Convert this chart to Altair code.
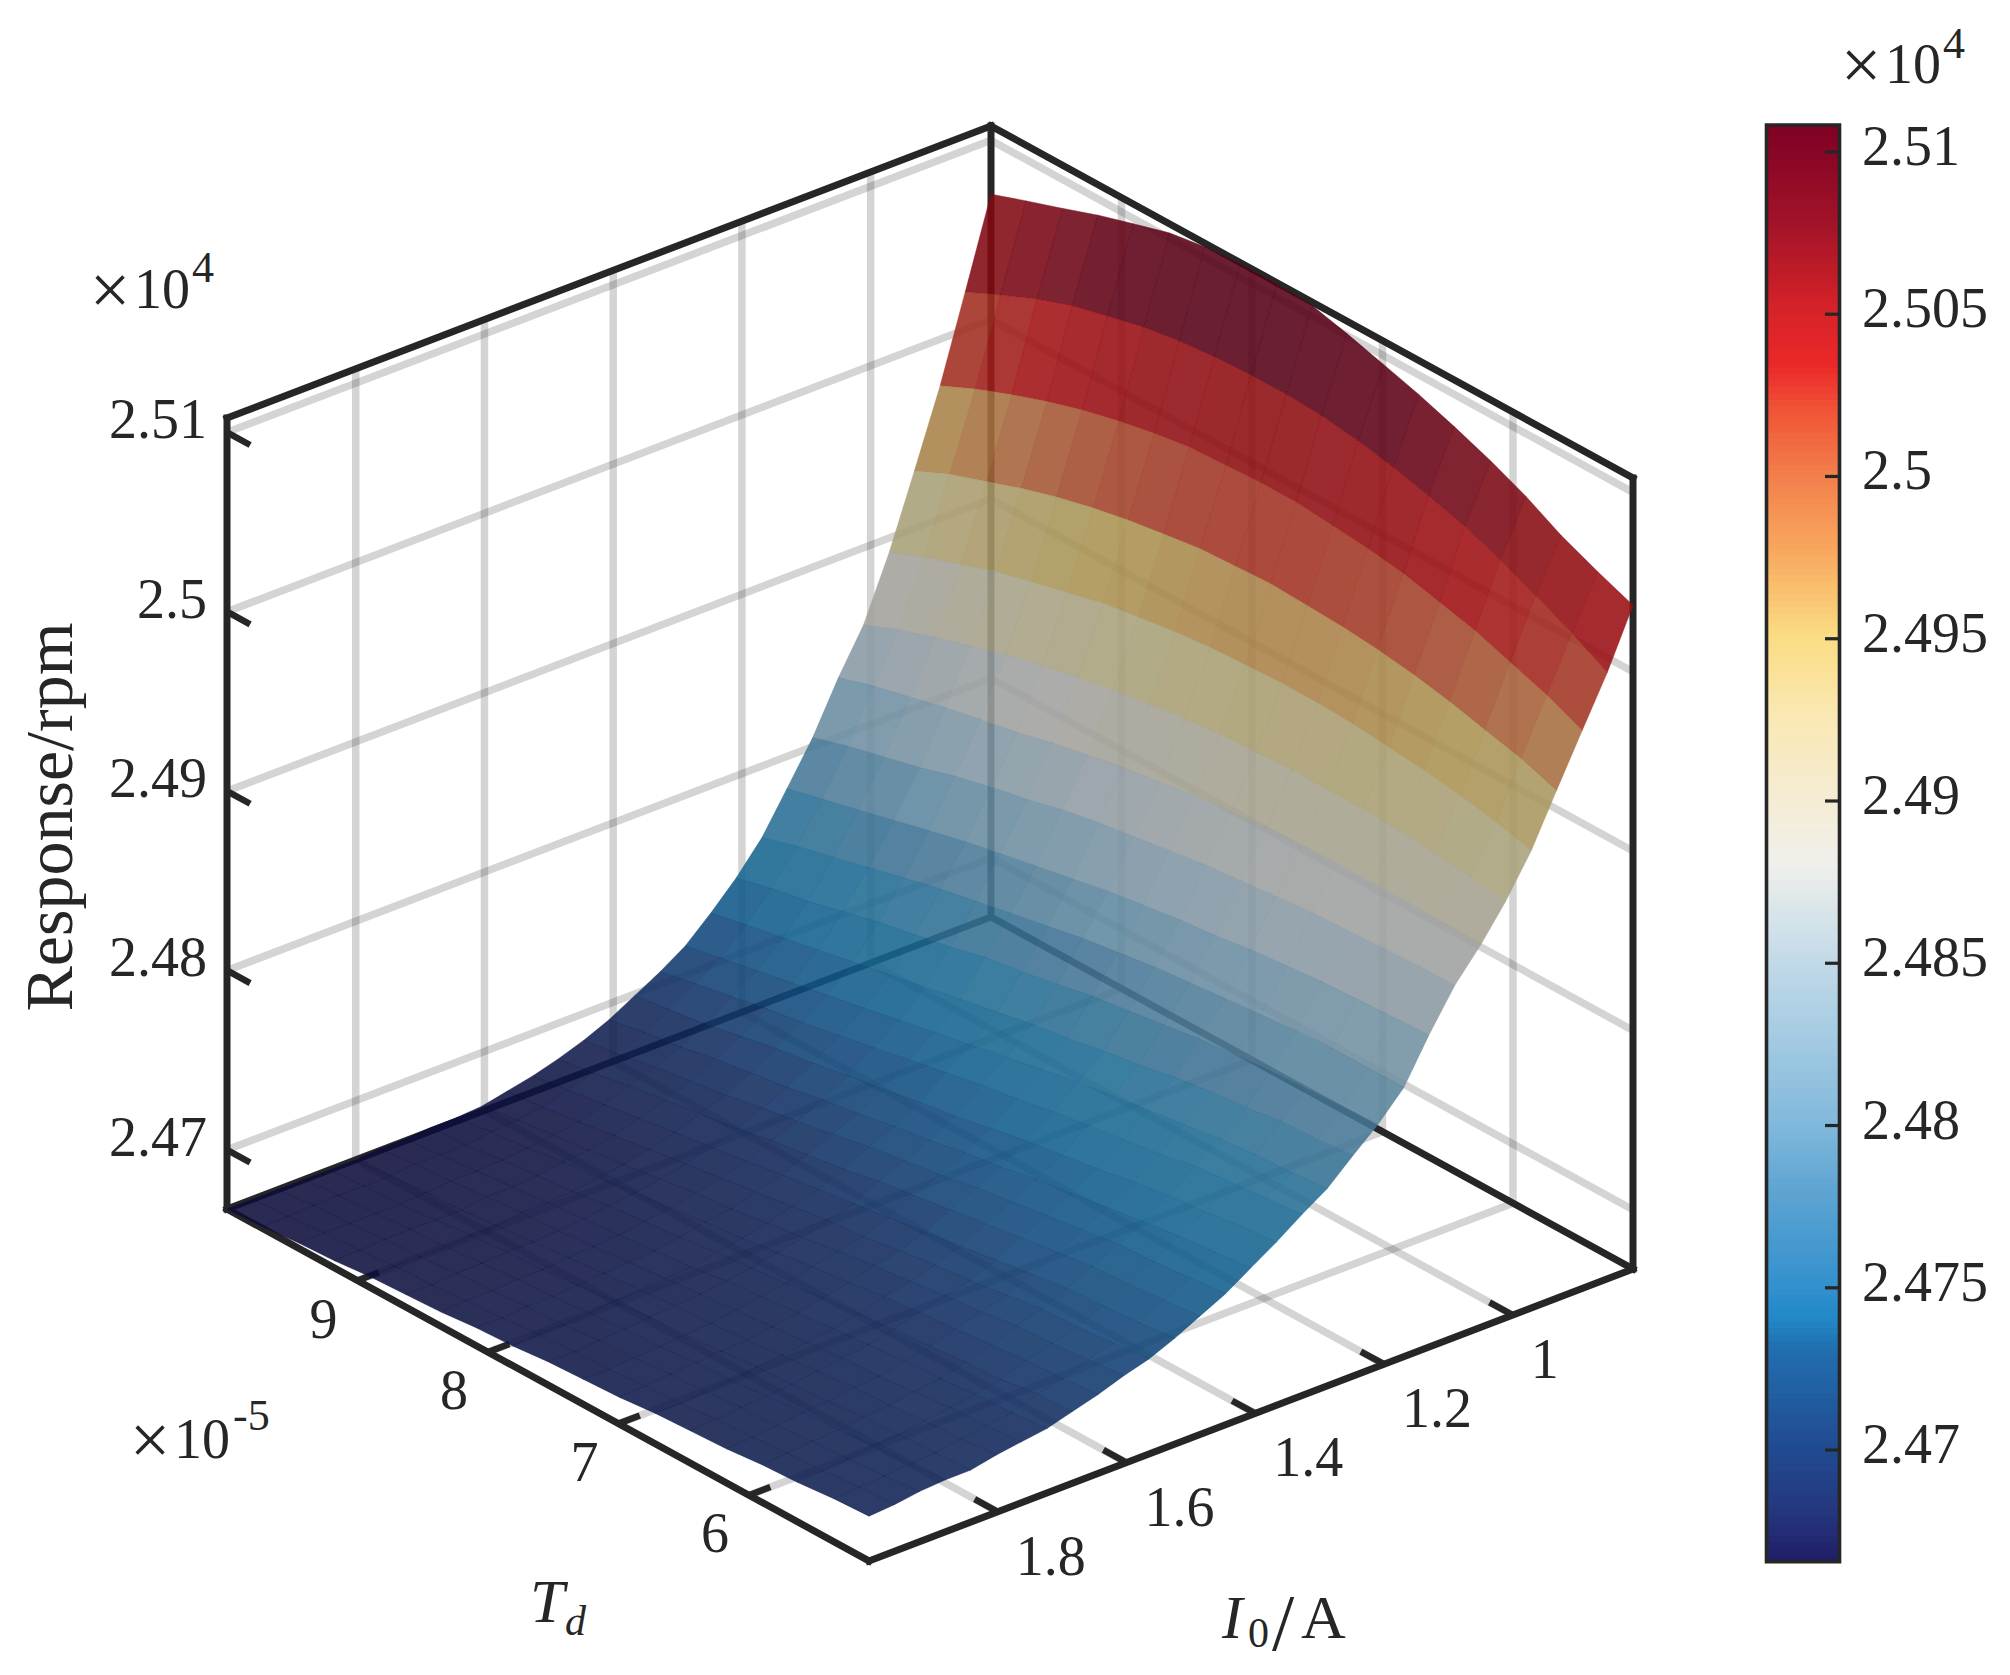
import altair as alt
import pandas as pd
import numpy as np

# ---- values ----
td_nodes = [10.00,9.73,9.45,9.18,8.91,8.63,8.36,8.09,7.81,7.54,7.27,6.99,6.72,6.45,6.17,5.90,5.63,5.35,5.08]
i0_nodes = [.813,.853,.892,.932,.971,1.011,1.050,1.090,1.130,1.169,1.209,1.248,1.288,1.327,1.367,1.407,
            1.446,1.486,1.525,1.565,1.604,1.644,1.684,1.723,1.763,1.802,1.842,1.881,1.921,1.960,2.000]
z_rows = [
[25070,25077,25084,25091,25097,25103,25106,25107,25107,25106,25101,25095,25089,25082,25074,25065,25054,25045,25037],
[25021,25030,25039,25046,25051,25056,25059,25061,25062,25062,25061,25058,25054,25049,25043,25035,25026,25016,25005],
[24974,24983,24991,24998,25004,25009,25013,25016,25017,25018,25018,25016,25014,25011,25006,25001,24994,24987,24978],
[24932,24941,24948,24955,24961,24966,24970,24973,24976,24977,24978,24977,24976,24974,24971,24967,24962,24957,24950],
[24892,24900,24907,24914,24919,24924,24929,24932,24935,24937,24938,24939,24939,24938,24936,24934,24931,24927,24922],
[24857,24865,24872,24878,24884,24889,24893,24897,24900,24903,24905,24906,24907,24907,24907,24906,24904,24902,24899],
[24833,24839,24844,24849,24853,24857,24862,24866,24870,24873,24876,24878,24880,24881,24882,24882,24882,24881,24880],
[24805,24811,24816,24821,24827,24832,24836,24841,24845,24848,24851,24854,24856,24858,24860,24861,24862,24863,24863],
[24782,24787,24792,24797,24802,24807,24811,24815,24819,24823,24826,24829,24831,24834,24836,24838,24839,24840,24841],
[24760,24766,24771,24776,24781,24786,24790,24794,24798,24802,24805,24808,24810,24812,24814,24816,24817,24817,24817],
[24743,24748,24752,24757,24762,24766,24770,24775,24778,24782,24786,24789,24792,24795,24797,24799,24800,24801,24802],
[24729,24733,24737,24741,24745,24749,24753,24757,24761,24765,24768,24772,24775,24779,24782,24784,24787,24788,24790],
[24716,24720,24724,24728,24732,24736,24740,24744,24748,24752,24756,24760,24763,24766,24769,24772,24774,24775,24777],
[24707,24711,24715,24719,24722,24726,24730,24734,24738,24742,24745,24749,24752,24755,24758,24762,24764,24766,24768],
[24699,24702,24705,24709,24713,24716,24720,24723,24727,24730,24734,24738,24741,24744,24748,24751,24753,24756,24758],
[24691,24695,24698,24702,24705,24708,24712,24715,24719,24722,24726,24729,24733,24736,24739,24742,24745,24747,24749],
[24685,24688,24692,24695,24698,24702,24705,24709,24713,24716,24719,24723,24726,24729,24732,24735,24736,24738,24740],
[24680,24683,24687,24690,24693,24696,24700,24703,24706,24710,24713,24716,24719,24722,24725,24728,24729,24731,24733],
[24676,24679,24682,24685,24688,24691,24694,24697,24700,24703,24706,24709,24712,24715,24718,24721,24722,24724,24726],
[24673,24675,24678,24681,24684,24687,24690,24693,24696,24699,24701,24704,24707,24709,24712,24715,24716,24718,24720],
[24670,24673,24676,24678,24681,24684,24687,24689,24692,24695,24698,24701,24703,24706,24708,24711,24712,24714,24716],
[24669,24672,24674,24677,24679,24682,24684,24687,24689,24692,24695,24697,24700,24702,24704,24706,24708,24709,24711],
[24669,24670,24673,24675,24677,24680,24682,24684,24687,24689,24691,24694,24696,24698,24700,24702,24703,24706,24707],
[24668,24670,24672,24674,24676,24678,24680,24682,24684,24687,24689,24691,24693,24695,24697,24698,24700,24701,24703],
[24668,24670,24672,24674,24676,24677,24679,24681,24683,24685,24687,24689,24691,24693,24694,24696,24698,24699,24701],
[24667,24669,24671,24672,24674,24676,24678,24680,24682,24684,24685,24687,24689,24691,24693,24694,24696,24697,24699],
[24667,24669,24670,24672,24674,24676,24677,24679,24681,24683,24684,24686,24688,24689,24691,24693,24694,24695,24696],
[24667,24669,24670,24672,24673,24675,24677,24678,24680,24682,24683,24685,24686,24688,24690,24691,24693,24694,24696],
[24667,24669,24670,24672,24673,24675,24676,24678,24679,24681,24682,24684,24685,24687,24688,24690,24691,24693,24695],
[24667,24668,24670,24671,24673,24674,24676,24677,24679,24680,24681,24683,24684,24686,24687,24689,24690,24692,24693],
[24667,24668,24670,24671,24673,24674,24675,24677,24678,24680,24681,24682,24684,24685,24686,24688,24689,24691,24692],
]
td_ticks = [9, 8, 7, 6]
i0_ticks = [1.8, 1.6, 1.4, 1.2, 1.0]
i0_labels = ["1.8", "1.6", "1.4", "1.2", "1"]
z_ticks = [24700, 24800, 24900, 25000, 25100]
z_labels = ["2.47", "2.48", "2.49", "2.5", "2.51"]
cb_ticks = [24700, 24750, 24800, 24850, 24900, 24950, 25000, 25050, 25100]
cb_labels = ["2.47", "2.475", "2.48", "2.485", "2.49", "2.495", "2.5", "2.505", "2.51"]

# surface colour (as seen through the translucent, lit surface)
surf_dom = [24666,24700,24720,24745,24765,24790,24815,24842,24875,24912,24950,24995,25020,25045,25075,25108]
surf_rng = ["#0d0b38","#10275a","#104377","#10608d","#1c6b93","#3e7193","#60889e","#8296a4","#a1a19e",
            "#a7a17c","#aa914f","#a13624","#a00f12","#880b10","#5c0016","#490016"]
# colour-bar map
cb_dom = [24666,24680,24700,24730,24740,24750,24780,24800,24850,24880,24925,24950,24975,25000,25019,25033,25050,25075,25100,25108]
cb_rng = ["#211f69","#24377d","#214b91","#216eaf","#2289c8","#3491cd","#5fa5d2","#82b9dc","#c3dae8","#f0f0eb",
          "#fae8b4","#fadc82","#f8aa5f","#f37d4b","#f05537","#eb2828","#d72328","#a51428","#870526","#7d0023"]

# ---- view of the box ----
TD0, TD1 = 5.08, 10.0
I0, I1 = 0.813, 2.0
Z0, Z1 = 24667, 25108
LEFT = np.array([227.0, 1209.0]); to_front = np.array([642.0, 352.0]); to_back = np.array([764.0, -292.0]); rise = 791.0
DARK = "#262626"
SERIF = "Liberation Serif"

def proj(td, i0, z):
    u = (TD1 - td) / (TD1 - TD0)
    v = (I1 - i0) / (I1 - I0)
    w = (z - Z0) / (Z1 - Z0)
    p = LEFT + u * to_front + v * to_back
    return float(p[0]), float(p[1] - w * rise)

def seg(a, b):
    (x, y), (x2, y2) = proj(*a), proj(*b)
    return dict(x=x, y=y, x2=x2, y2=y2)

xs = alt.Scale(domain=[8, 2002], range=[0, 1994], nice=False, zero=False)
ys = alt.Scale(domain=[8, 1667], range=[0, 1659], nice=False, zero=False)
X = alt.X("x:Q", scale=xs, axis=None)
Y = alt.Y("y:Q", scale=ys, axis=None)

def rules(rows, **kw):
    return alt.Chart(pd.DataFrame(rows)).mark_rule(**kw).encode(X, Y, x2="x2:Q", y2="y2:Q")

grid = []
for t in td_ticks:
    grid.append(seg((t, I0, Z0), (t, I0, Z1)))
    grid.append(seg((t, I1, Z0), (t, I0, Z0)))
for i in i0_ticks:
    grid.append(seg((TD1, i, Z0), (TD1, i, Z1)))
    grid.append(seg((TD1, i, Z0), (TD0, i, Z0)))
for z in z_ticks:
    grid.append(seg((TD1, I1, z), (TD1, I0, z)))
    grid.append(seg((TD1, I0, z), (TD0, I0, z)))

box = [
    seg((TD1, I1, Z0), (TD0, I1, Z0)), seg((TD0, I1, Z0), (TD0, I0, Z0)),
    seg((TD1, I1, Z0), (TD1, I0, Z0)), seg((TD1, I0, Z0), (TD0, I0, Z0)),
    seg((TD1, I1, Z1), (TD1, I0, Z1)), seg((TD1, I0, Z1), (TD0, I0, Z1)),
    seg((TD1, I1, Z0), (TD1, I1, Z1)), seg((TD1, I0, Z0), (TD1, I0, Z1)), seg((TD0, I0, Z0), (TD0, I0, Z1)),
]
ticks = []
for z in z_ticks:
    ticks.append(seg((TD1, I1, z), (TD1 - 0.036 * (TD1 - TD0), I1, z)))
for t in td_ticks:
    ticks.append(seg((t, I1, Z0), (t, I1 - 0.028 * (I1 - I0), Z0)))
for i in i0_ticks:
    ticks.append(seg((TD0, i, Z0), (TD0 + 0.036 * (TD1 - TD0), i, Z0)))

# ---- surface cells ----
features = []
for r in range(len(i0_nodes) - 1):
    for c in range(len(td_nodes) - 1):
        corners = [(r, c), (r, c + 1), (r + 1, c + 1), (r + 1, c)]
        ring = [list(proj(td_nodes[b], i0_nodes[a], z_rows[a][b])) for a, b in corners]
        ring.append(ring[0])
        features.append({
            "type": "Feature",
            "geometry": {"type": "Polygon", "coordinates": [ring]},
            "properties": {"z": float(np.mean([z_rows[a][b] for a, b in corners]))},
        })

surf_scale = alt.Scale(domain=surf_dom, range=surf_rng, interpolate="rgb")
surface = (
    alt.Chart(alt.Data(values=features))
    .mark_geoshape(strokeWidth=0.8, strokeOpacity=0.55, fillOpacity=0.88)
    .encode(
        fill=alt.Fill("properties.z:Q", scale=surf_scale, legend=None),
        stroke=alt.Stroke("properties.z:Q", scale=surf_scale, legend=None),
    )
    .project(type="identity", scale=1, translate=[-8, -8])
)

# ---- tick labels and titles ----
def text_layer(rows, size, align="left", style="normal", angle=0):
    return alt.Chart(pd.DataFrame(rows)).mark_text(
        font=SERIF, fontSize=size, color=DARK, align=align, baseline="alphabetic",
        fontStyle=style, angle=angle
    ).encode(X, Y, text="t:N")

z_text = []
for z, s in zip(z_ticks, z_labels):
    px, py = proj(TD1, I1, z)
    z_text.append(dict(x=207, y=py + 6, t=s))
td_text = []
for t in td_ticks:
    px, py = proj(t, I1, Z0)
    td_text.append(dict(x=px - 34, y=py + 57, t=str(t)))
i0_text = []
for i, s in zip(i0_ticks, i0_labels):
    px, py = proj(TD0, i, Z0)
    i0_text.append(dict(x=px + 18, y=py + 63, t=s))

labels = [
    text_layer(z_text, 56, align="right"),
    text_layer(td_text, 56, align="center"),
    text_layer(i0_text, 56, align="left"),
    text_layer([dict(x=110, y=314, t="×"), dict(x=150, y=1464, t="×"), dict(x=1861, y=89, t="×")], 72, align="center"),
    text_layer([dict(x=134, y=308, t="10"), dict(x=174, y=1458, t="10"), dict(x=1885, y=83, t="10")], 56),
    text_layer([dict(x=192, y=282, t="4"), dict(x=1943, y=58, t="4"), dict(x=233, y=1430, t="-5")], 44),
    text_layer([dict(x=72, y=817, t="Response/rpm")], 68, align="center", angle=270),
    text_layer([dict(x=530, y=1622, t="T"), dict(x=1222, y=1638, t="I")], 62, style="italic"),
    text_layer([dict(x=565, y=1635, t="d")], 42, style="italic"),
    text_layer([dict(x=1248, y=1647, t="0")], 42),
    text_layer([dict(x=1301, y=1638, t="A")], 62),
    text_layer([dict(x=1272, y=1650, t="/")], 80),
]

# ---- colour bar ----
cb_y = alt.Scale(domain=[24665.6, 25108.3], range=[1553.7, 117], nice=False, zero=False)
bins = np.arange(24665.6, 25108.3, 2.0)
cb_df = pd.DataFrame({"lo": bins, "hi": np.minimum(bins + 2.4, 25108.3)})
cb_rect = alt.Chart(cb_df).mark_rect().encode(
    x=alt.value(1757), x2=alt.value(1833),
    y=alt.Y("lo:Q", scale=cb_y, axis=None), y2="hi:Q",
    color=alt.Color("lo:Q", scale=alt.Scale(domain=cb_dom, range=cb_rng, interpolate="rgb"), legend=None),
)
cb_frame = alt.Chart(pd.DataFrame({"lo": [24665.6], "hi": [25108.3]})).mark_rect(
    fillOpacity=0, stroke=DARK, strokeWidth=3.6
).encode(
    x=alt.value(1758.5), x2=alt.value(1831.5),
    y=alt.Y("lo:Q", scale=cb_y, axis=None), y2="hi:Q",
)
cb_df2 = pd.DataFrame({"v": cb_ticks, "t": cb_labels})
cb_tick = alt.Chart(cb_df2).mark_rule(color=DARK, strokeWidth=3.2).encode(
    x=alt.value(1817), x2=alt.value(1832), y=alt.Y("v:Q", scale=cb_y, axis=None)
)
cb_text = alt.Chart(cb_df2).mark_text(
    font=SERIF, fontSize=56, color=DARK, align="left", baseline="alphabetic", dy=13
).encode(x=alt.value(1854), y=alt.Y("v:Q", scale=cb_y, axis=None), text="t:N")

chart = alt.layer(
    rules(grid, color=DARK, opacity=0.2, strokeWidth=7.5),
    rules(box, color=DARK, strokeWidth=7, strokeCap="square"),
    rules(ticks, color=DARK, strokeWidth=6.5),
    surface,
    *labels,
    cb_rect, cb_frame, cb_tick, cb_text,
).resolve_scale(x="independent", y="independent", color="independent", fill="independent", stroke="independent").properties(
    width=1994, height=1659, padding=0, autosize=alt.AutoSizeParams(type="none"),
    background="white",
).configure_view(stroke=None)

chart.save("out.html", embed_options={"renderer": "svg", "actions": False})
